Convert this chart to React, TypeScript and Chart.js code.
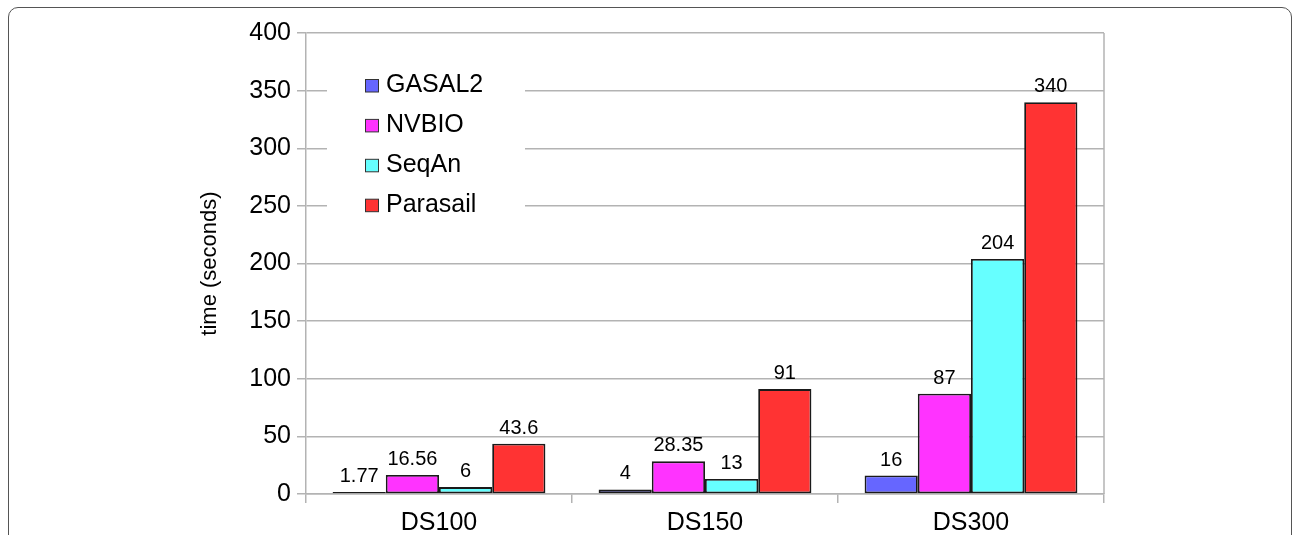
import React, { useEffect, useRef } from "react";
import { Chart, registerables } from "chart.js";

Chart.register(...registerables);

const categories = ["DS100", "DS150", "DS300"];
const seriesNames = ["GASAL2", "NVBIO", "SeqAn", "Parasail"];
const gasal2 = [1.77, 4, 16];
const nvbio = [16.56, 28.35, 87];
const seqan = [6, 13, 204];
const parasail = [43.6, 91, 340];
const valueLabels = [
  ["1.77", "4", "16"],
  ["16.56", "28.35", "87"],
  ["6", "13", "204"],
  ["43.6", "91", "340"],
];
const colors = ["#6666ff", "#ff33ff", "#66ffff", "#ff3333"];
const yTicks = [0, 50, 100, 150, 200, 250, 300, 350, 400];
const yTitle = "time (seconds)";

const FONT = "'Liberation Sans', Arial, sans-serif";
const GRID = "#b3b3b3";

export default function App() {
  const ref = useRef<HTMLCanvasElement | null>(null);

  useEffect(() => {
    if (!ref.current) return;
    const overlay = {
      id: "overlay",
      beforeDatasetsDraw(chart: any) {
        const ctx = chart.ctx;
        const a = chart.chartArea;
        ctx.save();
        ctx.strokeStyle = GRID;
        ctx.lineWidth = 1.5;
        ctx.beginPath();
        ctx.moveTo(a.right, a.top);
        ctx.lineTo(a.right, a.bottom);
        ctx.stroke();
        ctx.restore();
      },
      afterDatasetsDraw(chart: any) {
        const ctx = chart.ctx;
        ctx.save();
        // value labels
        ctx.font = `20px ${FONT}`;
        ctx.fillStyle = "#000";
        ctx.textAlign = "center";
        ctx.textBaseline = "alphabetic";
        chart.data.datasets.forEach((ds: any, di: number) => {
          const meta = chart.getDatasetMeta(di);
          meta.data.forEach((bar: any, i: number) => {
            ctx.fillText(valueLabels[di][i], bar.x, bar.y - 10);
          });
        });
        // legend box
        ctx.fillStyle = "#fff";
        ctx.fillRect(327, 62, 198, 162);
        ctx.font = `25px ${FONT}`;
        ctx.textAlign = "left";
        seriesNames.forEach((name, i) => {
          const base = 92 + i * 39.9;
          ctx.fillStyle = colors[i];
          ctx.fillRect(365.5, base - 12.5, 13, 12.5);
          ctx.strokeStyle = "#333";
          ctx.lineWidth = 1;
          ctx.strokeRect(365.5, base - 12.5, 13, 12.5);
          ctx.fillStyle = "#000";
          ctx.fillText(name, 386, base);
        });
        // y title
        ctx.translate(210, 263.5);
        ctx.rotate(-Math.PI / 2);
        ctx.textAlign = "center";
        ctx.textBaseline = "middle";
        ctx.font = `22px ${FONT}`;
        ctx.fillText(yTitle, 0, 0);
        ctx.restore();
      },
    };

    const seriesData = [gasal2, nvbio, seqan, parasail];
    const chart = new Chart(ref.current, {
      type: "bar",
      data: {
        labels: categories,
        datasets: seriesNames.map((name, i) => ({
          label: name,
          data: seriesData[i],
          backgroundColor: colors[i],
          borderColor: "#1a1a1a",
          borderWidth: 1.8,
          borderSkipped: false,
          categoryPercentage: 0.8,
          barPercentage: 1,
        })),
      },
      options: {
        animation: false,
        responsive: false,
        maintainAspectRatio: false,
        layout: { padding: { left: 0, top: 33, right: 190, bottom: 0 } },
        plugins: { legend: { display: false }, tooltip: { enabled: false } },
        scales: {
          x: {
            afterFit: (s: any) => {
              s.height = 41;
            },
            grid: {
              offset: true,
              color: GRID,
              lineWidth: 1.5,
              tickLength: 9,
              drawTicks: true,
              drawOnChartArea: false,
            },
            border: { color: GRID, width: 1.5 },
            ticks: {
              color: "#000",
              font: { family: FONT, size: 25 },
              padding: 5,
            },
          },
          y: {
            min: 0,
            max: 400,
            afterFit: (s: any) => {
              s.width = 306;
            },
            afterBuildTicks: (s: any) => {
              s.ticks = yTicks.map((v) => ({ value: v }));
            },
            grid: { color: GRID, lineWidth: 1.5, tickLength: 9 },
            border: { color: GRID, width: 1.5 },
            ticks: {
              color: "#000",
              font: { family: FONT, size: 25 },
              padding: 6,
            },
          },
        },
      },
      plugins: [overlay],
    });
    return () => chart.destroy();
  }, []);

  return (
    <div style={{ position: "absolute", left: 0, top: 0, width: 1294, height: 535, overflow: "hidden", background: "#fff" }}>
      <div
        style={{
          position: "absolute",
          left: 8,
          top: 7,
          width: 1284,
          height: 600,
          border: "1.5px solid #555",
          borderRadius: 10,
          boxSizing: "border-box",
        }}
      />
      <canvas ref={ref} width={1294} height={535} style={{ position: "absolute", left: 0, top: 0 }} />
    </div>
  );
}
